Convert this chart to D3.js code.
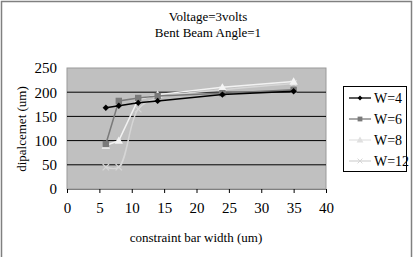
<!DOCTYPE html>
<html>
<head>
<meta charset="utf-8">
<script src="https://cdn.jsdelivr.net/npm/d3@7"></script>
<style>
  body { margin: 0; background: #fff; }
  svg text { font-family: "Liberation Serif", "Times New Roman", Times, "DejaVu Serif", serif; fill: #000; }
</style>
</head>
<body>
<div id="chart"></div>
<script>
// constraint bar widths (um)
var widths = [6, 8, 11, 14, 24, 35];

// displacement (um) per series
var w4  = [168, 172, 178, 182, 195, 202];
var w6  = [93, 182, 188, 192, 198, 205];
var w8  = [90, 100, 185, 195, 210, 222];
var w12 = [45, 45, 165, 188, 205, 218];

var seriesNames = ["W=4", "W=6", "W=8", "W=12"];
var xTicks = [0, 5, 10, 15, 20, 25, 30, 35, 40];
var yTicks = [0, 50, 100, 150, 200, 250];

var serifFont = '"Liberation Serif", "Times New Roman", Times, "DejaVu Serif", serif';

var series = [
    {name: seriesNames[0], values: w4,  color: "#000000", marker: "diamond", fill: "#000000"},
    {name: seriesNames[1], values: w6,  color: "#7a7a7a", marker: "square",  fill: "#7a7a7a"},
    {name: seriesNames[2], values: w8,  color: "#f2f2f2", marker: "triangle", fill: "#f4f4f4"},
    {name: seriesNames[3], values: w12, color: "#d6d6d6", marker: "cross",   fill: "#d6d6d6"}
];

var width = 416, height = 257;

var svg = d3.select("#chart").append("svg")
    .attr("width", width)
    .attr("height", height)
    .style("font-family", serifFont);

// chart frame
svg.append("rect")
    .attr("x", 1.5).attr("y", 1.5)
    .attr("width", 410).attr("height", 260)
    .attr("fill", "#fff")
    .attr("stroke", "#808080")
    .attr("stroke-width", 1.5);

// titles
svg.append("text")
    .attr("x", 208).attr("y", 21)
    .style("text-anchor", "middle")
    .style("font-size", "13px")
    .text("Voltage=3volts");
svg.append("text")
    .attr("x", 208).attr("y", 37)
    .style("text-anchor", "middle")
    .style("font-size", "13px")
    .text("Bent Beam Angle=1");

var x = d3.scaleLinear().domain([0, 40]).range([67, 326]);
var y = d3.scaleLinear().domain([0, 250]).range([189, 68]);

// plot area
svg.append("rect")
    .attr("x", x(0)).attr("y", y(250))
    .attr("width", x(40) - x(0)).attr("height", y(0) - y(250))
    .attr("fill", "#c0c0c0")
    .attr("stroke", "#9a9a9a")
    .attr("stroke-width", 1);

// gridlines
svg.append("g")
    .selectAll("line")
    .data(yTicks.filter(function(d) { return d > 0 && d < 250; }))
    .enter().append("line")
    .attr("x1", x(0)).attr("x2", x(40))
    .attr("y1", function(d) { return y(d); })
    .attr("y2", function(d) { return y(d); })
    .attr("stroke", "#000")
    .attr("stroke-width", 1);

// x axis
var xAxis = d3.axisBottom(x).tickValues(xTicks).tickSize(4).tickPadding(9);
var gx = svg.append("g")
    .attr("transform", "translate(0," + y(0) + ")")
    .call(xAxis)
    .attr("font-family", null);
gx.select(".domain").attr("stroke", "#808080");
gx.selectAll(".tick line").attr("stroke", "#000");
gx.selectAll(".tick text")
    .style("font-family", serifFont)
    .style("font-size", "15px");

// y axis
var yAxis = d3.axisLeft(y).tickValues(yTicks).tickSize(0).tickPadding(10);
var gy = svg.append("g")
    .attr("transform", "translate(" + x(0) + ",0)")
    .call(yAxis)
    .attr("font-family", null);
gy.select(".domain").remove();
gy.selectAll(".tick text")
    .style("font-family", serifFont)
    .style("font-size", "15px");

// axis titles
svg.append("text")
    .attr("x", 196).attr("y", 242)
    .style("text-anchor", "middle")
    .style("font-size", "13px")
    .text("constraint bar width (um)");
svg.append("text")
    .attr("transform", "translate(26,129) rotate(-90)")
    .style("text-anchor", "middle")
    .style("font-size", "13px")
    .text("dipalcemet (um)");

function markerPath(type, size) {
    var s = size;
    if (type === "diamond") return "M0," + (-s) + "L" + s + ",0L0," + s + "L" + (-s) + ",0Z";
    if (type === "square") return "M" + (-s) + "," + (-s) + "h" + (2 * s) + "v" + (2 * s) + "h" + (-2 * s) + "Z";
    if (type === "triangle") return "M0," + (-s - 1) + "L" + (s + 1) + "," + s + "L" + (-s - 1) + "," + s + "Z";
    return "M" + (-s) + "," + (-s) + "L" + s + "," + s + "M" + s + "," + (-s) + "L" + (-s) + "," + s;
}

var line = d3.line()
    .x(function(d) { return x(d.x); })
    .y(function(d) { return y(d.y); });

// draw series, lightest last like the original
series.slice().reverse().forEach(function(s) {
    var pts = widths.map(function(w, i) { return {x: w, y: s.values[i]}; });
    svg.append("path")
        .datum(pts)
        .attr("fill", "none")
        .attr("stroke", s.color)
        .attr("stroke-width", 1.5)
        .attr("d", line.curve(s.marker === "cross" ? d3.curveCatmullRom : d3.curveLinear));
    svg.append("g").selectAll("path")
        .data(pts)
        .enter().append("path")
        .attr("transform", function(d) { return "translate(" + x(d.x) + "," + y(d.y) + ")"; })
        .attr("d", markerPath(s.marker, 3.2))
        .attr("fill", s.fill)
        .attr("stroke", s.marker === "cross" ? s.color : "none")
        .attr("stroke-width", 1.2);
});

// legend
var legend = svg.append("g");
legend.append("rect")
    .attr("x", 343.5).attr("y", 86.5)
    .attr("width", 63).attr("height", 85)
    .attr("fill", "#fff")
    .attr("stroke", "#000")
    .attr("stroke-width", 1);

var items = legend.selectAll("g.item")
    .data(series)
    .enter().append("g")
    .attr("class", "item")
    .attr("transform", function(d, i) { return "translate(0," + (98 + i * 21) + ")"; });
items.append("line")
    .attr("x1", 349).attr("x2", 371)
    .attr("stroke", function(d) { return d.color === "#f2f2f2" ? "#e4e4e4" : d.color; })
    .attr("stroke-width", 1.3);
items.append("path")
    .attr("transform", "translate(360,0)")
    .attr("d", function(d) { return markerPath(d.marker, 2.4); })
    .attr("fill", function(d) { return d.color === "#f2f2f2" ? "#e0e0e0" : d.fill; })
    .attr("stroke", function(d) { return d.marker === "cross" ? d.color : "none"; });
items.append("text")
    .attr("x", 374).attr("y", 5)
    .style("font-size", "14px")
    .text(function(d) { return d.name; });
</script>
</body>
</html>
